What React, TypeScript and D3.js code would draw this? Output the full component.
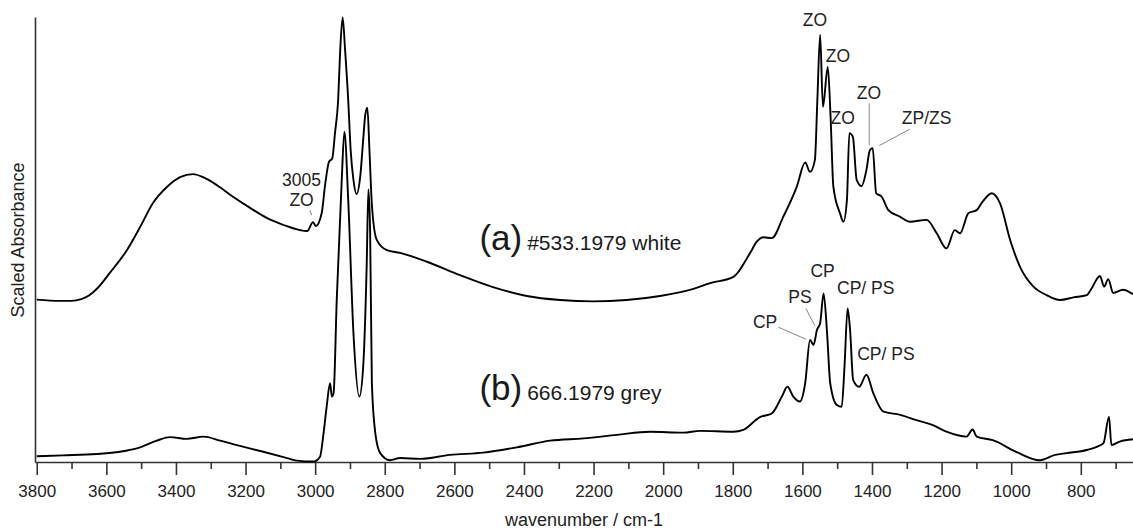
import React, { useEffect, useRef } from "react";
import * as d3 from "d3";

// wavenumber (cm-1) for each sampled point, series (a) #533.1979 white
const waveA = [3800, 3733, 3700, 3672, 3650, 3625, 3590, 3541, 3503, 3466, 3426, 3388, 3351, 3322, 3282, 3236, 3187, 3138, 3092, 3044, 3023, 3006, 2998, 2981, 2972, 2960, 2951, 2943, 2934, 2928, 2921, 2914, 2905, 2898, 2890, 2881, 2870, 2862, 2856, 2850, 2844, 2837, 2823, 2794, 2756, 2679, 2584, 2489, 2392, 2296, 2201, 2105, 2009, 1913, 1865, 1798, 1750, 1731, 1712, 1688, 1655, 1616, 1592, 1578, 1564, 1557, 1549, 1541, 1527, 1519, 1511, 1492, 1482, 1472, 1465, 1455, 1444, 1430, 1416, 1406, 1398, 1388, 1372, 1353, 1319, 1291, 1243, 1214, 1186, 1162, 1147, 1123, 1099, 1082, 1056, 1032, 1003, 975, 936, 898, 860, 821, 783, 769, 745, 733, 721, 707, 679, 650];
const absA = [0.365, 0.362, 0.362, 0.366, 0.374, 0.391, 0.425, 0.476, 0.528, 0.582, 0.618, 0.640, 0.647, 0.640, 0.622, 0.596, 0.571, 0.548, 0.533, 0.521, 0.519, 0.539, 0.530, 0.560, 0.619, 0.675, 0.682, 0.739, 0.813, 0.926, 0.999, 0.926, 0.813, 0.701, 0.634, 0.602, 0.645, 0.724, 0.780, 0.796, 0.701, 0.578, 0.499, 0.476, 0.470, 0.450, 0.420, 0.393, 0.373, 0.364, 0.361, 0.364, 0.373, 0.389, 0.402, 0.416, 0.470, 0.495, 0.505, 0.503, 0.551, 0.619, 0.673, 0.652, 0.679, 0.813, 0.960, 0.798, 0.888, 0.776, 0.619, 0.559, 0.540, 0.589, 0.739, 0.731, 0.634, 0.620, 0.656, 0.701, 0.705, 0.604, 0.596, 0.566, 0.551, 0.540, 0.544, 0.514, 0.480, 0.521, 0.514, 0.559, 0.566, 0.585, 0.604, 0.581, 0.499, 0.439, 0.394, 0.375, 0.364, 0.370, 0.375, 0.390, 0.418, 0.394, 0.411, 0.380, 0.387, 0.377];

// series (b) 666.1979 grey
const waveB = [3800, 3724, 3628, 3561, 3503, 3455, 3417, 3369, 3321, 3273, 3225, 3149, 3091, 3053, 3005, 2986, 2976, 2967, 2957, 2952, 2947, 2938, 2924, 2916, 2905, 2890, 2873, 2862, 2852, 2847, 2842, 2837, 2827, 2813, 2785, 2756, 2699, 2613, 2517, 2421, 2325, 2229, 2133, 2038, 1942, 1894, 1798, 1770, 1722, 1688, 1659, 1643, 1626, 1607, 1592, 1578, 1568, 1558, 1549, 1539, 1529, 1520, 1501, 1487, 1479, 1470, 1463, 1454, 1437, 1416, 1396, 1367, 1319, 1272, 1225, 1186, 1128, 1111, 1099, 1053, 986, 918, 874, 841, 783, 735, 719, 712, 688, 650];
const absB = [0.013, 0.015, 0.018, 0.023, 0.033, 0.048, 0.056, 0.052, 0.057, 0.048, 0.038, 0.023, 0.011, 0.003, 0.001, 0.012, 0.064, 0.124, 0.177, 0.147, 0.155, 0.364, 0.627, 0.742, 0.589, 0.290, 0.147, 0.214, 0.439, 0.613, 0.515, 0.177, 0.064, 0.020, 0.004, 0.009, 0.007, 0.016, 0.021, 0.033, 0.048, 0.053, 0.061, 0.068, 0.066, 0.070, 0.068, 0.072, 0.101, 0.109, 0.147, 0.169, 0.147, 0.136, 0.177, 0.274, 0.263, 0.297, 0.312, 0.379, 0.289, 0.177, 0.128, 0.124, 0.214, 0.345, 0.297, 0.184, 0.169, 0.196, 0.154, 0.113, 0.106, 0.094, 0.083, 0.068, 0.057, 0.073, 0.057, 0.049, 0.023, 0.004, 0.016, 0.020, 0.027, 0.042, 0.102, 0.038, 0.046, 0.051];

const majorTicks = [3800, 3600, 3400, 3200, 3000, 2800, 2600, 2400, 2200, 2000, 1800, 1600, 1400, 1200, 1000, 800];
const minorTicks = [3700, 3500, 3300, 3100, 2900, 2700, 2500, 2300, 2100, 1900, 1700, 1500, 1300, 1100, 900, 700];

// band annotations: label text, anchor wavenumber, anchor absorbance
const annText = ["ZO", "ZO", "ZO", "ZO", "ZP/ZS", "3005", "ZO", "CP", "PS", "CP", "CP/ PS", "CP/ PS"];
const annWave = [1564, 1498, 1484, 1409, 1243, 3039, 3039, 1542, 1607, 1707, 1418, 1360];
const annAbs = [0.993, 0.912, 0.772, 0.829, 0.772, 0.634, 0.589, 0.430, 0.370, 0.315, 0.390, 0.242];

// leader lines: [w1, a1, w2, a2]
const leaderW1 = [1408, 1291, 3015, 1590, 1669];
const leaderA1 = [0.806, 0.748, 0.566, 0.345, 0.303];
const leaderW2 = [1408, 1379, 3010, 1564, 1590];
const leaderA2 = [0.712, 0.711, 0.555, 0.306, 0.276];

// sample labels
const sampleTag = ["(a)", "(b)"];
const sampleName = ["#533.1979 white", "666.1979 grey"];
const sampleWave = [2528, 2528];
const sampleAbs = [0.476, 0.139];

const W = 1133;
const H = 530;
const FONT = "Arial, 'Liberation Sans', Helvetica, sans-serif";

export default function App() {
  const axisRef = useRef<SVGGElement | null>(null);
  const minorRef = useRef<SVGGElement | null>(null);
  const leftRef = useRef<SVGGElement | null>(null);

  const x = d3.scaleLinear().domain([3805, 650]).range([35, 1133]);
  const y = d3.scaleLinear().domain([0, 1]).range([462, 17]);

  const line = d3
    .line<[number, number]>()
    .x((d) => x(d[0]))
    .y((d) => y(d[1]))
    .curve(d3.curveMonotoneX);

  const dataA: [number, number][] = waveA.map((w, i) => [w, absA[i]]);
  const dataB: [number, number][] = waveB.map((w, i) => [w, absB[i]]);

  useEffect(() => {
    if (axisRef.current) {
      const g = d3.select(axisRef.current);
      g.selectAll("*").remove();
      g.call(
        d3
          .axisBottom(x)
          .tickValues(majorTicks)
          .tickFormat(d3.format("d"))
          .tickSize(13)
          .tickSizeOuter(0)
          .tickPadding(10)
      );
      g.select(".domain").attr("stroke", "#333").attr("stroke-width", 1.6);
      g.selectAll(".tick line").attr("stroke", "#333").attr("stroke-width", 1.6);
      g.selectAll(".tick text")
        .attr("font-size", 17)
        .attr("font-family", FONT)
        .attr("fill", "#222");
    }
    if (minorRef.current) {
      const g = d3.select(minorRef.current);
      g.selectAll("*").remove();
      g.call(
        d3
          .axisBottom(x)
          .tickValues(minorTicks)
          .tickFormat(() => "")
          .tickSize(7)
          .tickSizeOuter(0)
      );
      g.select(".domain").remove();
      g.selectAll(".tick line").attr("stroke", "#333").attr("stroke-width", 1.6);
    }
    if (leftRef.current) {
      const g = d3.select(leftRef.current);
      g.selectAll("*").remove();
      g.call(d3.axisLeft(y).tickValues([]).tickSizeOuter(0));
      g.select(".domain").attr("stroke", "#333").attr("stroke-width", 1.6);
    }
  }, []);

  return (
    <div style={{ position: "absolute", left: 0, top: 0, width: W, height: H, background: "#fff" }}>
      <svg width={W} height={H} style={{ display: "block" }} fontFamily={FONT}>
        <rect x={0} y={0} width={W} height={H} fill="#fff" />
        <g ref={axisRef} transform={`translate(0,${y(0)})`} />
        <g ref={minorRef} transform={`translate(0,${y(0)})`} />
        <g ref={leftRef} transform={`translate(${x(3805)},0)`} />

        <path d={line(dataA) || ""} fill="none" stroke="#000" strokeWidth={1.9} strokeLinejoin="round" />
        <path d={line(dataB) || ""} fill="none" stroke="#000" strokeWidth={1.9} strokeLinejoin="round" />

        {leaderW1.map((w, i) => (
          <line
            key={"ld" + i}
            x1={x(w)}
            y1={y(leaderA1[i])}
            x2={x(leaderW2[i])}
            y2={y(leaderA2[i])}
            stroke="#888"
            strokeWidth={1}
          />
        ))}

        {annText.map((t, i) => (
          <text
            key={"an" + i}
            x={x(annWave[i])}
            y={y(annAbs[i])}
            textAnchor="middle"
            dominantBaseline="central"
            fontSize={17.5}
            fill="#222"
          >
            {t}
          </text>
        ))}

        {sampleTag.map((t, i) => (
          <text key={"st" + i} x={x(sampleWave[i])} y={y(sampleAbs[i])} fill="#1a1a1a">
            <tspan fontSize={35}>{t}</tspan>
            <tspan fontSize={21} dx={5}>{sampleName[i]}</tspan>
          </text>
        ))}

        <text x={584} y={526} textAnchor="middle" fontSize={18} fill="#222">
          wavenumber / cm-1
        </text>
        <text
          transform="translate(24,240) rotate(-90)"
          textAnchor="middle"
          fontSize={18}
          fill="#222"
        >
          Scaled Absorbance
        </text>
      </svg>
    </div>
  );
}
